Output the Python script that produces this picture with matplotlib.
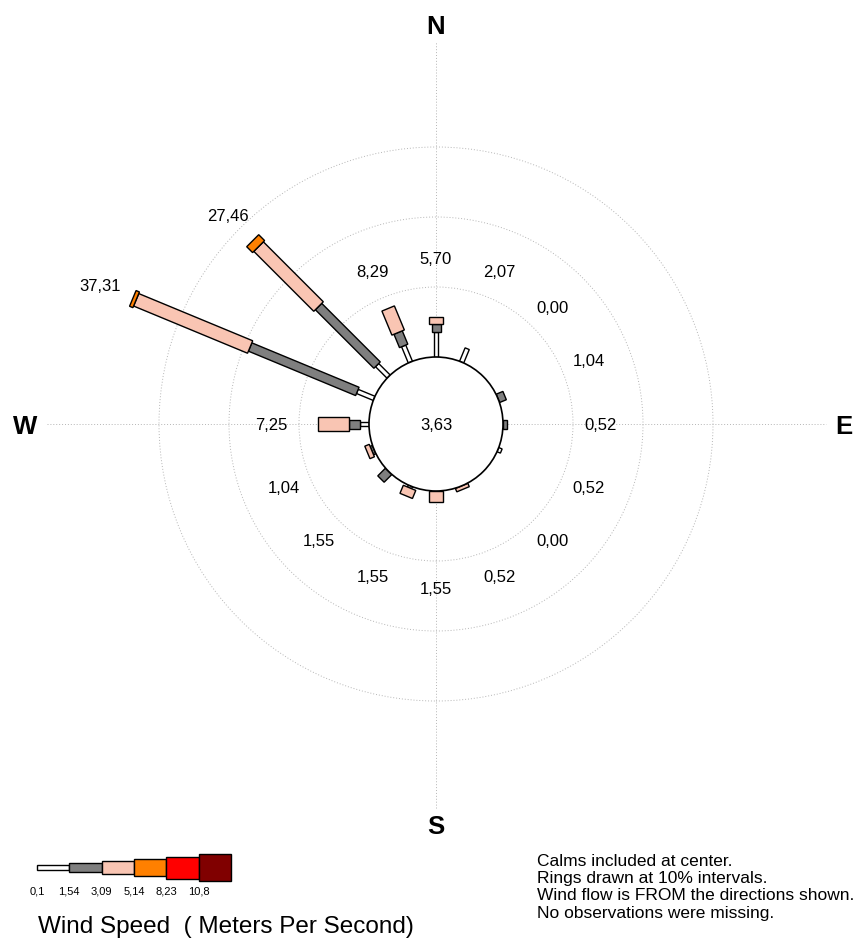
import numpy as np
import matplotlib.pyplot as plt
from matplotlib.patches import Polygon, Circle, Rectangle

# 16 compass sectors, clockwise from north
DIRECTIONS = ['N', 'NNE', 'NE', 'ENE', 'E', 'ESE', 'SE', 'SSE',
              'S', 'SSW', 'SW', 'WSW', 'W', 'WNW', 'NW', 'NNW']
TOTALS = [5.70, 2.07, 0.00, 1.04, 0.52, 0.52, 0.00, 0.52,
          1.55, 1.55, 1.55, 1.04, 7.25, 37.31, 27.46, 8.29]
CALMS = 3.63

# frequency (%) in each speed class per direction
freq_01_154 = [3.55, 2.07, 0, 0, 0, 0.52, 0, 0, 0, 0.30, 0, 0, 1.25, 2.59, 2.33, 2.50]
freq_154_309 = [1.20, 0, 0, 1.04, 0.52, 0, 0, 0, 0, 0, 1.55, 0.35, 1.57, 16.58, 11.83, 2.07]
freq_309_514 = [0.95, 0, 0, 0, 0, 0, 0, 0.52, 1.55, 1.25, 0, 0.69, 4.43, 17.62, 12.11, 3.72]
freq_514_823 = [0, 0, 0, 0, 0, 0, 0, 0, 0, 0, 0, 0, 0, 0.52, 1.19, 0]
freq_823_108 = [0] * 16
freq_108_up = [0] * 16

SPEED_LABELS = ['0,1', '1,54', '3,09', '5,14', '8,23', '10,8']
CLASS_COLORS = ['#ffffff', '#7f7f7f', '#f9c5b3', '#ff8000', '#ff0000', '#800000']
BAR_WIDTHS = [4.5, 9, 13.5, 17, 22, 26.5]  # px

NOTES = ['Calms included at center.',
         'Rings drawn at 10% intervals.',
         'Wind flow is FROM the directions shown.',
         'No observations were missing.']

W, H = 865, 940
CX, CY = 436, 424          # rose centre, px from top-left
CALM_R = 67                # px
PX_PER_PCT = 7.0
FONT = 'Liberation Sans'


def fmt(v):
    return f"{v:.2f}".replace('.', ',')


def main():
    fig = plt.figure(figsize=(W / 100, H / 100), dpi=100)
    ax = fig.add_axes([0, 0, 1, 1])
    ax.set_xlim(-CX, W - CX)
    ax.set_ylim(-(H - CY), CY)
    ax.axis('off')

    grid = dict(color='#b5b5b5', lw=0.7, ls=(0, (1, 2)), zorder=1)
    ax.plot([-389, 390], [0, 0], **grid)
    ax.plot([0, 0], [-384, 382], **grid)
    for k in (1, 2, 3):
        ax.add_patch(Circle((0, 0), CALM_R + 10 * k * PX_PER_PCT, fill=False, **grid))

    classes = [freq_01_154, freq_154_309, freq_309_514,
               freq_514_823, freq_823_108, freq_108_up]
    angles = np.deg2rad(np.arange(16) * 22.5)

    for i, th in enumerate(angles):
        ux, uy = np.sin(th), np.cos(th)
        px, py = np.cos(th), -np.sin(th)
        r = CALM_R
        for k, cls in enumerate(classes):
            if cls[i] <= 0:
                continue
            r1 = r + cls[i] * PX_PER_PCT
            hw = BAR_WIDTHS[k] / 2
            pts = [(r * ux + hw * px, r * uy + hw * py),
                   (r1 * ux + hw * px, r1 * uy + hw * py),
                   (r1 * ux - hw * px, r1 * uy - hw * py),
                   (r * ux - hw * px, r * uy - hw * py)]
            ax.add_patch(Polygon(pts, closed=True, facecolor=CLASS_COLORS[k],
                                 edgecolor='black', lw=1.0, zorder=3))
            r = r1

        tip = CALM_R + TOTALS[i] * PX_PER_PCT
        lr = max(165, tip + 35)
        ax.text(lr * ux, lr * uy - 1, fmt(TOTALS[i]), ha='center', va='center',
                fontsize=12, family=FONT, zorder=5)

    ax.add_patch(Circle((0, 0), CALM_R, facecolor='white', edgecolor='black',
                        lw=1.2, zorder=4))
    ax.text(0, -1, fmt(CALMS), ha='center', va='center', fontsize=12,
            family=FONT, zorder=5)

    for name, ang, rr in [('N', 0, 400), ('E', 90, 408), ('S', 180, 400), ('W', 270, 411)]:
        t = np.deg2rad(ang)
        ax.text(rr * np.sin(t), rr * np.cos(t) - 3, name, ha='center', va='center',
                fontsize=18.5, fontweight='bold', family=FONT)

    # legend
    lx0, lx1, lyc, lh = 37, 231, 867.5, 30
    lax = fig.add_axes([lx0 / W, (H - lyc - lh / 2) / H, (lx1 - lx0) / W, lh / H])
    lax.set_xlim(0, 6)
    lax.set_ylim(-lh / 2, lh / 2)
    lax.axis('off')
    for k in range(6):
        h = BAR_WIDTHS[k]
        lax.add_patch(Rectangle((k, -h / 2), 1, h, facecolor=CLASS_COLORS[k],
                                edgecolor='black', lw=1.0, clip_on=False))
    seg = (lx1 - lx0) / 6
    for k, lab in enumerate(SPEED_LABELS):
        fig.text((lx0 + k * seg) / W, 1 - 892 / H, lab, ha='center', va='center',
                 fontsize=8, family=FONT)
    fig.text(38 / W, 1 - 927 / H, 'Wind Speed  ( Meters Per Second)', ha='left',
             va='center', fontsize=17.5, family=FONT)

    for j, line in enumerate(NOTES):
        fig.text(537 / W, 1 - (861 + 17.5 * j) / H, line, ha='left', va='center',
                 fontsize=12.5, family=FONT)

    fig.savefig('out.png', dpi=100)


if __name__ == '__main__':
    main()
